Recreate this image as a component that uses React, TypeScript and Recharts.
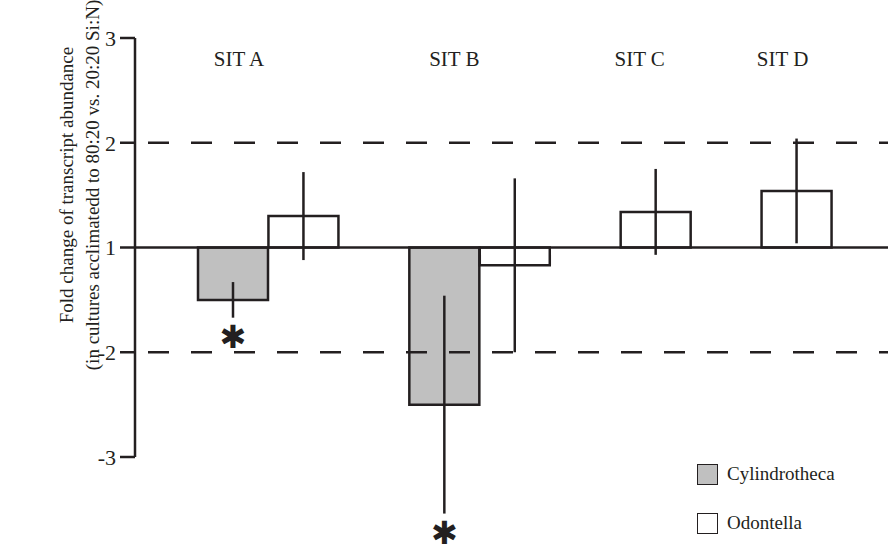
import React from 'react';
import { BarChart, Bar, Cell, XAxis, YAxis, ReferenceLine, ErrorBar, LabelList, Legend } from 'recharts';

// fold change values (log-like axis: 1, 2, 3 up and -2, -3 down)
const SITES = ['SIT A', 'SIT B', 'SIT C', 'SIT D'];
const CYLINDROTHECA = [-1.5, -2.5, null, null];
const CYLINDROTHECA_ERR = [0.17, 1.04, null, null];
const CYLINDROTHECA_SIG = [true, true, false, false];
const ODONTELLA = [1.3, -1.17, 1.34, 1.54];
const ODONTELLA_ERR = [0.42, 0.83, 0.41, 0.5];
const Y_TICKS = [3, 2, 1, -2, -3];

const INK = '#231f20';
const GREY = '#c0c0c0';
const FONT = '"Liberation Serif", "Times New Roman", serif';
const W = 888;
const H = 554;
const TOP = 38;
const UNIT = 104.75;
// the lower end runs past -3 so the long error bar is not clipped; the axis line stops at -3
const Y_MIN = -2.7;
const BOTTOM = H - TOP - (2 - Y_MIN) * UNIT;
const LABEL_DX = [6, 10, -16, -14];

// fold change -> linear plot units (1 sits on 0, 2 on 1, -2 on -1 ...)
const toPlot = (f: number) => (f > 0 ? f - 1 : f + 1);
const fromPlot = (v: number) => (v >= 0 ? v + 1 : v - 1);

const rows: any[] = [];
SITES.forEach((site, i) => {
  const hasCyl = CYLINDROTHECA[i] != null;
  rows.push({
    slot: site + '-c',
    value: hasCyl ? toPlot(CYLINDROTHECA[i] as number) : null,
    err: CYLINDROTHECA_ERR[i],
    fill: GREY,
    site: hasCyl ? site : undefined,
    star: CYLINDROTHECA_SIG[i] ? CYLINDROTHECA_ERR[i] : undefined,
  });
  rows.push({
    slot: site + '-o',
    value: toPlot(ODONTELLA[i]),
    err: ODONTELLA_ERR[i],
    fill: '#ffffff',
    site: hasCyl ? undefined : site,
  });
  if (i === 0) rows.push({ slot: 'gap', value: null, err: null });
});

const box = (p: any) => {
  const vb = p.viewBox && p.viewBox.width != null ? p.viewBox : p;
  return { x: Number(vb.x), y: Number(vb.y), w: Number(vb.width), h: Number(vb.height) };
};

const SiteLabel = (p: any) => {
  if (!p.value) return null;
  const { x, w } = box(p);
  const i = SITES.indexOf(p.value);
  return (
    <text x={x + w / 2 + LABEL_DX[i]} y={TOP + 28} textAnchor="middle" fill={INK} fontSize={21} fontFamily={FONT}>
      {p.value}
    </text>
  );
};

const Star = (p: any) => {
  if (p.value == null) return null;
  const { x, y, w, h } = box(p);
  const bottom = Math.max(y, y + h);
  const cy = bottom + Number(p.value) * UNIT + 19;
  return (
    <text x={x + w / 2} y={cy + 11} textAnchor="middle" fill={INK} fontSize={32} fontFamily='"DejaVu Sans", sans-serif'>
      ✱
    </text>
  );
};

const YLabel = () => (
  <g fill={INK} fontFamily={FONT} fontSize={19} textAnchor="middle">
    <text transform="translate(73,185) rotate(-90)">Fold change of transcript abundance</text>
    <text transform="translate(99,185) rotate(-90)">(in cultures acclimatedd to 80:20 vs. 20:20 Si:N)</text>
  </g>
);

const LegendBox = () => (
  <div style={{ fontFamily: FONT, fontSize: 19, color: INK }}>
    {[
      { name: 'Cylindrotheca', fill: GREY },
      { name: 'Odontella', fill: '#ffffff' },
    ].map((it) => (
      <div key={it.name} style={{ display: 'flex', alignItems: 'center', height: 22, marginBottom: 27 }}>
        <span style={{ width: 19, height: 19, background: it.fill, border: `1.5px solid ${INK}`, display: 'inline-block', marginRight: 9 }} />
        <span>{it.name}</span>
      </div>
    ))}
  </div>
);

export default function App() {
  return (
    <div style={{ position: 'absolute', left: 0, top: 0, width: W, height: H, background: '#fff' }}>
      <BarChart width={W} height={H} data={rows} margin={{ top: TOP, right: 0, bottom: BOTTOM, left: 0 }} barCategoryGap={0} barGap={0}>
        <XAxis dataKey="slot" hide padding={{ left: 63, right: 56 }} />
        <YAxis
          type="number"
          domain={[Y_MIN, 2]}
          allowDataOverflow
          ticks={Y_TICKS.map(toPlot)}
          tickFormatter={(v: number) => String(fromPlot(v))}
          width={135}
          tickSize={15}
          tickMargin={4}
          axisLine={{ stroke: INK, strokeWidth: 2.5, strokeDasharray: `${4 * UNIT} 2000` }}
          tickLine={{ stroke: INK, strokeWidth: 2.5 }}
          tick={{ fill: INK, fontSize: 22, fontFamily: FONT }}
          label={{ content: YLabel }}
        />
        <ReferenceLine y={1} stroke={INK} strokeWidth={2.5} strokeDasharray="21 22" strokeDashoffset={30} />
        <ReferenceLine y={-1} stroke={INK} strokeWidth={2.5} strokeDasharray="21 22" strokeDashoffset={30} />
        <Bar dataKey="value" stroke={INK} strokeWidth={2.5} isAnimationActive={false}>
          {rows.map((r) => (
            <Cell key={r.slot} fill={r.fill || '#fff'} />
          ))}
          <ErrorBar dataKey="err" width={0} stroke={INK} strokeWidth={2.5} direction="y" />
          <LabelList dataKey="site" content={SiteLabel} />
          <LabelList dataKey="star" content={Star} />
        </Bar>
        <ReferenceLine y={0} stroke={INK} strokeWidth={2.5} />
        <Legend
          layout="horizontal"
          verticalAlign="middle"
          align="center"
          content={LegendBox}
          wrapperStyle={{ left: 697, top: 463, width: 'auto', height: 'auto' }}
        />
      </BarChart>
    </div>
  );
}
